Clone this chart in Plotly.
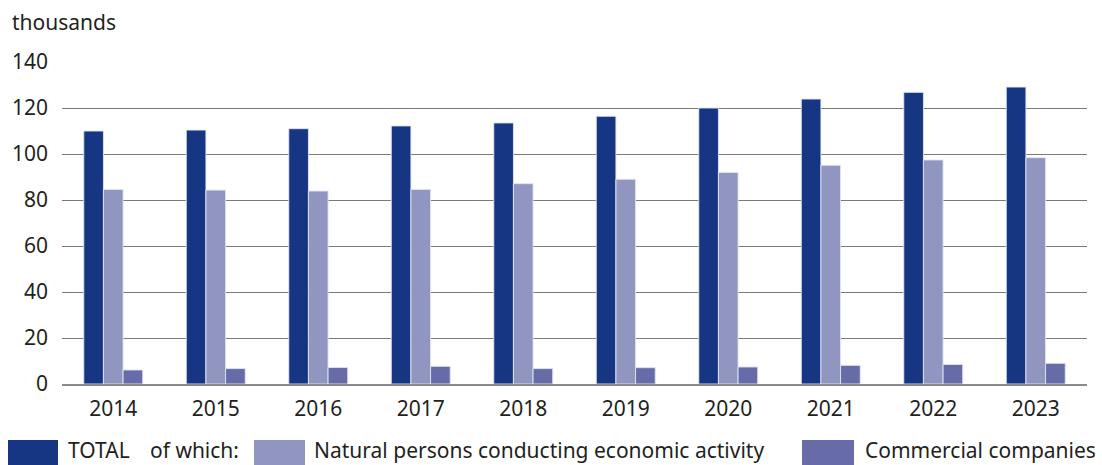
import plotly.graph_objects as go

years = ["2014", "2015", "2016", "2017", "2018", "2019", "2020", "2021", "2022", "2023"]
total = [110.0, 110.4, 111.0, 112.2, 113.5, 116.4, 120.0, 123.9, 126.8, 129.1]
natural = [84.6, 84.3, 83.9, 84.6, 87.1, 89.0, 92.0, 95.1, 97.4, 98.4]
commercial = [6.1, 6.7, 7.2, 7.7, 6.7, 7.1, 7.4, 8.1, 8.5, 9.0]

series_names = ["TOTAL", "Natural persons conducting economic activity", "Commercial companies"]
colors = ["#163583", "#9196C1", "#676CA8"]

FONT = "Noto Sans"
TXT = "#231f20"
FS = 21
W, H = 1102, 465
ML, MR, MT, MB = 62, 15, 62, 81
PW = W - ML - MR
PH = H - MT - MB


def px_x(x):
    return (x - ML) / PW


def px_y(y):
    return (H - MB - y) / PH


fig = go.Figure()
for name, vals, col in zip(series_names, [total, natural, commercial], colors):
    fig.add_trace(go.Bar(
        x=years, y=vals, name=name,
        marker=dict(color=col, line=dict(color="rgba(225,228,242,0.9)", width=1)),
        showlegend=False,
    ))

fig.update_layout(
    width=W, height=H,
    margin=dict(l=ML, r=MR, t=MT, b=MB, pad=0),
    paper_bgcolor="white", plot_bgcolor="white",
    barmode="group", bargap=0.425, bargroupgap=0,
    font=dict(family=FONT, size=FS, color=TXT),
    xaxis=dict(
        showgrid=False, showline=True, linecolor="#8a8a8a", linewidth=2,
        ticks="", tickfont=dict(family=FONT, size=FS, color=TXT),
        ticklabelstandoff=5,
    ),
    yaxis=dict(
        range=[0, 140], tickvals=[0, 20, 40, 60, 80, 100, 120, 140],
        showgrid=True, gridcolor="#7a7a7a", gridwidth=1,
        zeroline=False, showline=False, ticks="",
        tickfont=dict(family=FONT, size=FS, color=TXT),
        ticklabelstandoff=13,
    ),
)

# "thousands" unit label
fig.add_annotation(
    text="thousands", xref="paper", yref="paper",
    x=px_x(10), y=px_y(22), xanchor="left", yanchor="middle",
    showarrow=False, font=dict(family=FONT, size=FS, color=TXT),
)

# custom legend
legend_boxes = [(8, 58, colors[0]), (254, 305, colors[1]), (802, 854, colors[2])]
for x0, x1, col in legend_boxes:
    fig.add_shape(
        type="rect", xref="paper", yref="paper",
        x0=px_x(x0), x1=px_x(x1), y0=px_y(470), y1=px_y(440),
        fillcolor=col, line=dict(width=0),
    )

legend_texts = [
    (66, "TOTAL"),
    (148, "of which:"),
    (312, series_names[1]),
    (863, series_names[2]),
]
for x, t in legend_texts:
    fig.add_annotation(
        text=t, xref="paper", yref="paper",
        x=px_x(x), y=px_y(450), xanchor="left", yanchor="middle",
        showarrow=False, font=dict(family=FONT, size=FS, color=TXT),
    )

fig.write_html(
    "out.html",
    config={"displayModeBar": False},
    post_script="document.body.style.margin='0';document.body.style.overflow='hidden';",
)
